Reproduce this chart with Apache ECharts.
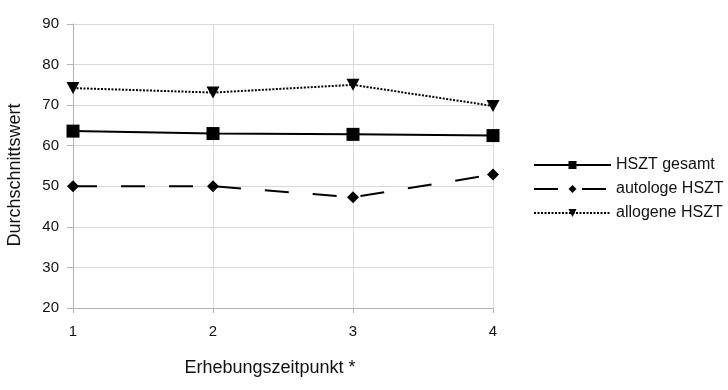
<!DOCTYPE html>
<html>
<head>
<meta charset="utf-8">
<script src="https://cdn.jsdelivr.net/npm/echarts@6/dist/echarts.min.js"></script>
<style>html,body{margin:0;padding:0;background:#fff}#c{width:728px;height:390px}</style>
</head>
<body>
<div id="c"></div>
<script>
const timepoints = [1, 2, 3, 4];
const gesamt = [63.6, 63.0, 62.8, 62.5];
const autologe = [50.0, 50.0, 47.3, 52.9];
const allogene = [74.2, 73.1, 75.0, 69.8];
const seriesNames = ['HSZT gesamt', 'autologe HSZT', 'allogene HSZT'];

const pair = arr => timepoints.map((t, i) => [t, arr[i]]);
const font = 'Liberation Sans, Arial, sans-serif';

const chart = echarts.init(document.getElementById('c'), null, {renderer: 'canvas'});
chart.setOption({
  animation: false,
  backgroundColor: '#fff',
  grid: {left: 73, right: 235, top: 24, bottom: 82, containLabel: false, outerBoundsMode: 'none'},
  xAxis: {
    type: 'value', min: 1, max: 4, interval: 1,
    name: 'Erhebungszeitpunkt *', nameLocation: 'middle', nameGap: 51,
    nameTextStyle: {fontFamily: font, fontSize: 18, color: '#111', padding: [0, 26, 0, 0]},
    axisLine: {show: true, lineStyle: {color: '#b3b3b3', width: 1}},
    axisTick: {show: true, length: 5, lineStyle: {color: '#b3b3b3'}},
    axisLabel: {fontFamily: font, fontSize: 15, color: '#111', margin: 16},
    splitLine: {show: true, lineStyle: {color: '#d9d9d9', width: 1}}
  },
  yAxis: {
    type: 'value', min: 20, max: 90, interval: 10,
    name: 'Durchschnittswert', nameLocation: 'middle', nameGap: 49,
    nameTextStyle: {fontFamily: font, fontSize: 18, color: '#111', padding: [0, 18, 0, 0]},
    axisLine: {show: true, lineStyle: {color: '#b3b3b3', width: 1}},
    axisTick: {show: true, length: 6, lineStyle: {color: '#b3b3b3'}},
    axisLabel: {fontFamily: font, fontSize: 15, color: '#111', margin: 14},
    splitLine: {show: true, lineStyle: {color: '#d9d9d9', width: 1}}
  },
  legend: {
    orient: 'vertical', left: 528, top: 152,
    itemWidth: 77, itemHeight: 10, itemGap: 8,
    textStyle: {fontFamily: font, fontSize: 16, color: '#111'},
    data: seriesNames
  },
  series: [
    {
      name: seriesNames[0], type: 'line', data: pair(gesamt),
      symbol: 'rect', symbolSize: 13,
      itemStyle: {color: '#000'},
      lineStyle: {color: '#000', width: 2, type: 'solid'}
    },
    {
      name: seriesNames[1], type: 'line', data: pair(autologe),
      symbol: 'diamond', symbolSize: [12, 12],
      itemStyle: {color: '#000'},
      lineStyle: {color: '#000', width: 2, type: [24, 24]}
    },
    {
      name: seriesNames[2], type: 'line', data: pair(allogene),
      symbol: 'triangle', symbolSize: [13, 12], symbolRotate: 180,
      itemStyle: {color: '#000'},
      lineStyle: {color: '#000', width: 2, type: [2, 1.5]}
    }
  ]
});
</script>
</body>
</html>
